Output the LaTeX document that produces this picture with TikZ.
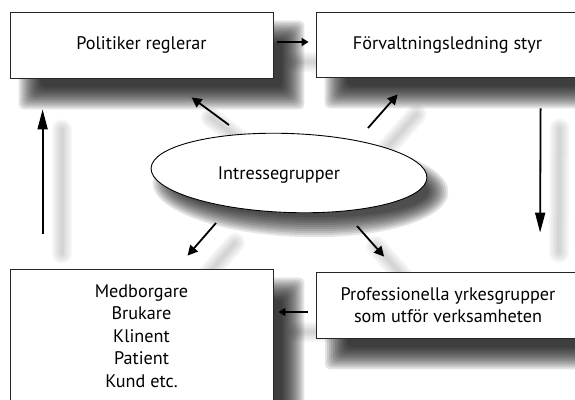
\documentclass[tikz,border=0pt]{standalone}
\usepackage{fontspec}
\setmainfont{PT Sans}
\usetikzlibrary{arrows.meta,shapes.geometric,calc}
\pgfdeclarelayer{background}
\pgfsetlayers{background,main}
\begin{document}
\begin{tikzpicture}[x=1pt,y=-1pt,
  box/.style={draw=black!85,line width=0.8pt,fill=white,minimum width=263pt,inner sep=0pt,
    font=\fontsize{18.2}{22.5}\selectfont,align=center,text=black},
  conn/.style={line width=1.8pt,-{Triangle[length=7pt,width=8pt]}},
  dconn/.style={line width=1.8pt,-{Triangle[length=10pt,width=10pt]}},
  vconn/.style={line width=1.8pt,-{Triangle[length=20pt,width=10pt]}},
  shadowfill/.style={fill=black,opacity=0.11,rounded corners=5pt},
  blurline/.style={draw=black,opacity=0.035,line cap=round},
]
\useasboundingbox (0,0) rectangle (575,399);
\clip (0,0) rectangle (575,399);

\node[box,minimum height=66pt] (A) at (141.5,45) {Politiker reglerar};
\node[box,minimum height=65pt] (B) at (447.5,44.5) {Förvaltningsledning styr};
\node[box,minimum height=134pt] (C) at (141.5,336) {Medborgare\\Brukare\\Klinent\\Patient\\Kund etc.};
\node[box,minimum height=66pt] (D) at (448,305) {Professionella yrkesgrupper\\som utför verksamheten};
\node[ellipse,draw=black,line width=0.9pt,fill=white,minimum width=276pt,minimum height=79pt,rotate=-2,inner sep=0pt] (E) at (289,173) {};
\node[font=\fontsize{18.2}{20}\selectfont,text=black] (Et) at (279,175) {Intressegrupper};

% connector end points
\coordinate (ab1) at ($(A.east)+(4,-3)$);
\coordinate (ab2) at ($(B.west)+(-7,-2.5)$);
\coordinate (dc1) at ($(D.west)+(-8,7)$);
\coordinate (dc2) at ($(C.east)+(5,-24)$);
\coordinate (ca1) at ($(C.north west)+(33,-35)$);
\coordinate (ca2) at ($(A.south west)+(33,31)$);
\coordinate (bd1) at ($(B.south west)+(225,31)$);
\coordinate (bd2) at ($(D.north west)+(224,-39)$);
\coordinate (ea1) at ($(E.center)+(-60,-48)$);
\coordinate (ea2) at ($(A.south west)+(182,19)$);
\coordinate (eb1) at ($(E.center)+(79,-45)$);
\coordinate (eb2) at ($(B.south west)+(82,17)$);
\coordinate (ec1) at ($(E.center)+(-73,50)$);
\coordinate (ec2) at ($(C.north west)+(178,-13)$);
\coordinate (ed1) at ($(E.center)+(68,53)$);
\coordinate (ed2) at ($(D.north west)+(68,-15)$);

\begin{pgfonlayer}{background}
  % box shadows
  \foreach \n in {A,B,C,D}{
    \foreach \k in {-11,-9,...,11}{
      \fill[shadowfill] ($(\n.north west)+(20+\k,20+\k)$) rectangle ($(\n.south east)+(20-\k,20-\k)$);
    }
  }
  % ellipse shadow
  \foreach \k in {-10,-8,...,10}{
    \fill[shadowfill,opacity=0.1,rotate around={-2:(E.center)}] ($(E.center)+(12,14)$) ellipse [x radius=138-\k, y radius=39.5-\k];
  }
  % arrow shadows
  \foreach \p/\q in {ca1/ca2,bd1/bd2,ea1/ea2,eb1/eb2,ec1/ec2,ed1/ed2,ab1/ab2,dc1/dc2}{
    \foreach \w in {20,16,12,8,4}{
      \draw[blurline,line width=\w pt] ($(\p)+(19,20)$) -- ($(\q)+(19,20)$);
    }
  }
\end{pgfonlayer}

\draw[conn] (ab1) -- (ab2);
\draw[conn] (dc1) -- (dc2);
\draw[vconn] (ca1) -- (ca2);
\draw[vconn] (bd1) -- (bd2);
\draw[dconn] (ea1) -- (ea2);
\draw[dconn] (eb1) -- (eb2);
\draw[dconn] (ec1) -- (ec2);
\draw[dconn] (ed1) -- (ed2);
\end{tikzpicture}
\end{document}
